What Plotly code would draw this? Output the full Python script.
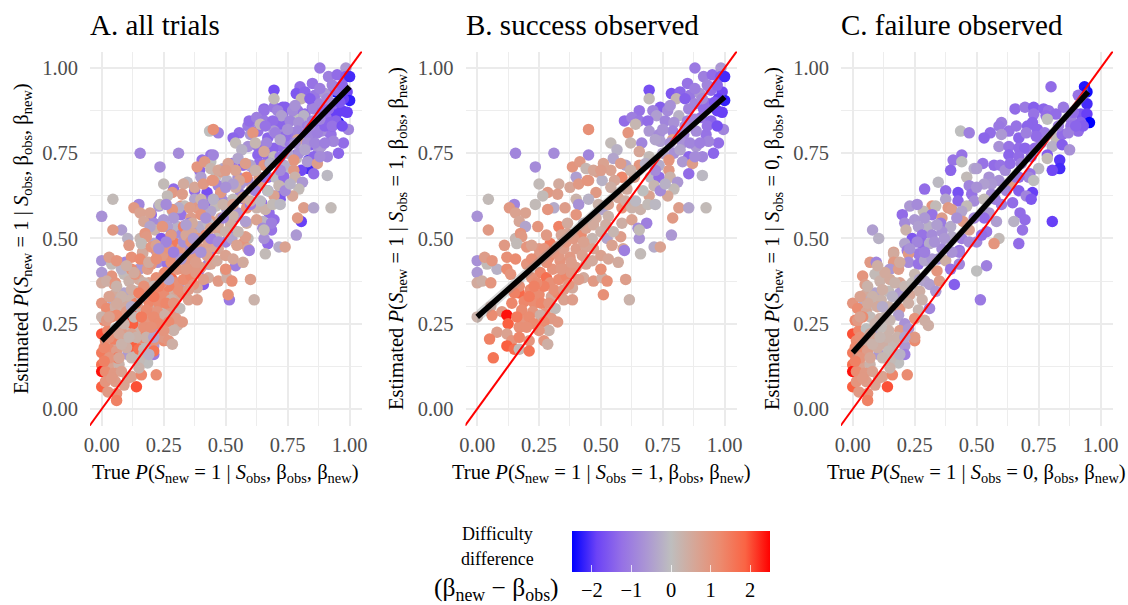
import plotly.graph_objects as go

# (true probability, estimated probability, difficulty difference)
success_points = [
(.88,1.0,-1.1),(.985,1.0,-.6),(.85,.955,-1.2),(.915,.975,-1.0),(.95,.98,-1.3),(.985,.975,-1.5),(1.0,.975,-2.1),
(.695,.935,-1.7),(.785,.925,-1.6),(.82,.93,-1.4),(.86,.92,-1.1),(.90,.925,-.6),(.945,.935,-1.3),(.99,.93,-1.8),(1.0,.905,-2.2),
(.695,.91,.1),(.805,.91,.2),(.84,.91,-1.5),(.88,.895,-.9),(.935,.895,-1.3),(.975,.91,-1.9),(.74,.885,-1.5),(.655,.875,-1.2),
(.71,.875,-.9),(.725,.86,-.5),(.77,.875,-.8),(.815,.86,-.2),(.855,.88,-.9),(.915,.88,-1.3),(.97,.875,-1.9),(.595,.845,-1.3),
(.625,.855,-1.0),(.655,.845,-1.1),(.69,.845,-1.3),(.76,.845,-.9),(.795,.84,-.7),(.85,.845,-.9),(.905,.855,-1.2),(.945,.845,-1.4),
(.995,.82,-.9),(.45,.82,1.1),(.64,.835,.2),(.61,.81,1.0),(.695,.815,-.6),(.735,.805,-.8),(.79,.815,-.9),(.835,.805,-.9),
(.925,.805,-1.2),(.885,.815,-.8),(.975,.78,-1.3),(.54,.78,.1),(.62,.78,.2),(.665,.78,-.9),(.74,.785,-.5),(.79,.79,.7),
(.83,.78,-.7),(.885,.77,-.6),(.935,.785,-.9),(.565,.76,-.2),(.155,.75,-.9),(.31,.75,-.8),(.45,.745,-.9),(.55,.735,-.4),
(.655,.755,.6),(.695,.74,.1),(.75,.75,-.4),(.795,.75,-.7),(.855,.74,-1.4),(.955,.75,-1.4),(.775,.73,1.0),(.83,.725,-.6),
(.87,.72,.8),(.385,.71,1.0),(.415,.725,.9),(.235,.71,-.8),(.44,.705,.2),(.485,.695,.8),(.54,.70,.7),(.60,.715,-.4),
(.655,.715,1.0),(.735,.715,-.3),(.775,.70,.9),(.855,.69,-1.3),(.91,.685,-.1),(.40,.68,-.5),(.585,.68,1.3),(.45,.67,.9),
(.505,.67,-.2),(.555,.67,.6),(.635,.68,.8),(.70,.68,-.1),(.735,.68,-1.3),(.78,.68,.3),(.81,.665,-.6),(.25,.66,.1),
(.33,.66,.5),(.375,.65,.6),(.41,.66,.9),(.445,.67,1.0),(.48,.635,.9),(.54,.65,.4),(.605,.645,.5),(.715,.655,.2),
(.795,.645,.1),(.285,.635,.9),(.325,.63,.8),(.265,.625,.1),(.45,.615,-.2),(.40,.615,.3),(.695,.625,.7),(.77,.625,.6),
(.045,.615,.1),(.15,.60,-.9),(.235,.60,.1),(.31,.59,-.3),(.41,.60,-.7),(.585,.59,1.0),(.625,.59,.3),(.66,.585,.3),
(.69,.60,.1),(.815,.59,.8),(.855,.59,-.4),(.925,.59,.1),(.13,.59,.9),(0,.565,-.7),(.155,.575,.7),(.195,.575,.7),
(.285,.585,1.0),(.355,.59,.8),(.505,.585,-.4),(.17,.55,.6),(.195,.535,-.4),(.245,.535,1.0),(.33,.535,1.4),(.365,.545,.5),
(.40,.57,1.0),(.43,.545,-.1),(.48,.56,.5),(.53,.565,.3),(.585,.545,.4),(.625,.555,.7),(.685,.545,-1.0),(.65,.53,-.8),
(.79,.56,.9),(.045,.525,.9),(.155,.50,.2),(.175,.515,1.0),(.18,.505,.9),(.295,.485,1.5),(.365,.515,.6),(.42,.51,1.2),
(.465,.50,.2),(.525,.50,-.4),(.58,.505,.8),(.545,.48,.7),(.655,.50,-.7),(.655,.525,.1),(.785,.51,-.6),(.11,.48,.9),
(.16,.485,.1),(.20,.475,1.0),(.25,.47,.9),(.325,.475,.7),(.40,.47,.8),(.44,.475,.6),(.59,.47,.6),(.715,.475,-.3),(.74,.475,.7),
(0,.435,-.7),(0,.40,-.6),(.04,.425,.1),(.08,.41,-.2),(.03,.445,.8),(.06,.435,1.0),(0,.37,.5),(.02,.375,.4),(.055,.37,1.0),
(.12,.445,1.1),(.155,.44,1.2),(.12,.41,1.2),(.135,.395,1.0),(.20,.425,1.0),(.25,.45,.9),(.29,.445,1.2),(.335,.435,1.0),
(.375,.445,.9),(.425,.45,.7),(.255,.40,1.3),(.28,.385,1.7),(.295,.37,1.1),(.22,.385,1.1),(.305,.41,1.0),(.355,.41,.9),
(.40,.415,.8),(.44,.425,.6),(.465,.435,.5),(.43,.385,.5),(.47,.375,.9),(.505,.385,.4),(.525,.375,1.1),(.50,.41,1.1),
(.60,.38,.8),(.66,.455,.1),(.595,.465,-1.0),(.17,.34,1.8),(.215,.35,1.2),(.19,.315,1.3),(.25,.335,1.2),(.055,.30,.4),
(.10,.285,.9),(.14,.31,1.3),(.12,.275,2.4),(.125,.25,1.9),(.06,.275,1.2),(0,.27,.3),(.23,.31,1.2),(.225,.285,1.0),
(.275,.28,.9),(.255,.275,.4),(.315,.295,.1),(.30,.33,.6),(.325,.34,1.2),(.35,.32,.7),(.385,.32,.8),(.385,.355,.5),
(.51,.335,1.1),(.615,.32,.3),(.19,.26,1.0),(.17,.24,1.1),(.30,.265,.9),(.325,.255,.9),(.27,.255,1.2),(.29,.23,.3),
(.25,.23,1.0),(.08,.225,.8),(.12,.22,.7),(.05,.205,1.4),(.14,.20,1.0),(.17,.21,1.3),(.21,.20,1.0),(.27,.20,1.0),
(.285,.19,.4),(.12,.185,1.9),(.15,.175,1.7),(.17,.175,.1),(.21,.17,1.6),(.065,.15,1.6),
(.33,.38,1.2),(.36,.39,1.3),(.31,.35,1.1),(.27,.36,1.4),(.24,.37,1.2),(.21,.33,1.5),(.23,.36,1.4),(.26,.31,1.3),
(.29,.31,1.0),(.34,.41,.9),(.38,.40,.9),(.41,.38,.8),(.37,.365,1.0),(.35,.35,.8),(.17,.36,1.1),(.15,.34,1.4),
(.18,.29,1.2),(.16,.27,1.5),(.21,.27,1.2),(.23,.25,1.2),(.20,.24,1.1),(.22,.44,1.1),(.28,.43,1.1),(.33,.45,.9),
(.38,.43,.8),(.27,.47,1.0),(.31,.46,1.0),(.35,.47,.8),(.22,.48,.7),(.28,.51,.9),(.34,.51,.6),(.36,.49,1.0),
(.39,.50,.9),(.43,.49,.7),(.47,.47,.6),(.50,.45,.7),(.53,.44,.6),(.57,.43,.5),(.44,.53,.7),(.47,.54,.5),
(.52,.54,.4),(.55,.52,.2),(.50,.52,.3),(.49,.60,.3),(.53,.60,.7),(.57,.62,.6),(.60,.61,.4),(.64,.61,-.1),
(.67,.64,0),(.72,.60,-.1),(.74,.64,-.8),(.76,.66,-.2),(.72,.70,-.8),(.78,.78,-.7),(.82,.76,-.4),(.86,.78,-.9),
(.90,.78,-1.0),(.91,.74,-.9),(.88,.74,-.8),(.84,.83,-.8),(.88,.85,-.9),(.93,.83,-1.2),(.97,.83,-1.7),(.99,.87,-1.9),
(.96,.90,-1.6),(.91,.91,-.8),(.93,.95,-.9),(.97,.95,-1.4),(.88,.94,-1.0),(.78,.89,-.7),(.75,.82,-.7),(.72,.79,-.4),
(.68,.72,-.2),(.62,.70,.3),(.58,.72,.8),(.51,.72,.7),(.47,.70,.6),(.50,.70,.8),
]

failure_points = [
(.80,.945,-1.3),(.935,.945,-2.3),(.945,.93,-2.4),(.91,.92,-1.2),(.945,.895,-2.1),(.655,.88,-1.3),(.695,.885,-1.1),(.73,.885,-1.5),
(.73,.865,-1.2),(.77,.88,-1.4),(.79,.875,-1.2),(.85,.885,-1.1),(.78,.86,-1.3),(.82,.865,-1.3),(.785,.85,0),(.88,.85,-1.0),
(.92,.865,-1.6),(.945,.865,-1.9),(.955,.84,-2.5),(.725,.84,-1.4),(.705,.83,-1.4),(.745,.82,-1.4),(.775,.81,-1.1),(.60,.84,-1.0),
(.59,.83,-1.1),(.63,.815,-1.2),(.555,.81,-1.3),(.53,.795,-1.4),(.60,.805,-.6),(.435,.815,0),(.47,.81,-1.0),(.91,.815,-1.3),
(.88,.83,-1.2),(.67,.795,-1.4),(.82,.795,.1),(.845,.805,-1.3),(.59,.77,-.7),(.63,.77,-1.2),(.67,.765,-1.3),(.695,.765,-1.4),
(.735,.765,-1.3),(.805,.77,-.2),(.845,.775,-1.5),(.875,.76,-.7),(.44,.745,-1.2),(.785,.745,-1.5),(.63,.745,-1.4),(.67,.74,-1.3),
(.785,.735,.1),(.75,.705,-.1),(.835,.73,-2.0),(.835,.705,-2.1),(.805,.70,-1.8),(.405,.73,-1.2),(.44,.725,0),(.525,.72,-1.2),
(.395,.70,-1.4),(.49,.705,-.3),(.50,.705,-.5),(.57,.715,-1.3),(.595,.715,-1.2),(.615,.70,-.8),(.635,.72,-1.3),(.715,.69,-1.2),
(.71,.68,-.9),(.73,.67,0),(.46,.68,.1),(.55,.68,-.7),(.59,.67,-.7),(.635,.66,.8),(.67,.68,-1.3),(.345,.665,-.1),
(.47,.655,-.9),(.56,.66,-.6),(.29,.645,-1.3),(.375,.64,-1.3),(.425,.635,-1.7),(.48,.63,-1.2),(.56,.63,-.8),(.725,.635,-1.9),
(.67,.64,-1.5),(.70,.625,-.9),(.72,.615,-1.6),(.375,.615,-.4),(.425,.61,-1.4),(.49,.61,-.8),(.53,.615,.1),(.575,.615,-1.0),
(.645,.605,-1.3),(.23,.595,-.6),(.32,.595,1.0),(.335,.595,.1),(.385,.59,.9),(.40,.585,.8),(.46,.595,.1),(.285,.58,.1),
(.20,.57,-1.3),(.32,.57,-1.2),(.36,.56,.8),(.44,.58,-.4),(.55,.575,-.6),(.675,.575,-1.3),(.695,.555,-1.3),(.21,.545,-.8),
(.25,.555,-.6),(.305,.535,-.2),(.355,.545,-1.1),(.445,.55,.9),(.53,.56,-1.3),(.65,.55,-.2),(.805,.55,-1.9),(.08,.525,-.5),
(.215,.525,.3),(.265,.535,-.5),(.395,.535,-.3),(.47,.525,.7),(.54,.52,-1.2),(.685,.525,-1.2),(.105,.50,-.2),(.24,.50,-1.6),
(.28,.51,-1.2),(.32,.51,-.8),(.36,.52,-.7),(.40,.505,-.3),(.50,.49,-.9),(.59,.50,.1),(.67,.485,-1.3),(.21,.485,-.4),
(.28,.485,-1.3),(.31,.485,-.3),(.165,.46,.7),(.43,.465,-1.2),(.57,.485,1.0),(.52,.51,-1.3),
(.07,.43,.9),(.095,.43,-.9),(.165,.455,.5),(.165,.43,.9),(.22,.465,-1.0),(.265,.455,-1.1),(.225,.455,.9),(.15,.41,-.6),
(.185,.41,.8),(.225,.43,-.8),(.265,.425,-1.2),(.29,.435,-.4),(.345,.44,-.7),(.375,.435,.4),(.43,.46,-1.0),(.43,.425,-.9),
(.395,.41,-1.2),(.34,.405,1.0),(.50,.405,0),(.54,.42,-1.0),(.04,.39,1.0),(.09,.395,.1),(.05,.365,.8),(.11,.375,.3),
(.15,.38,.5),(.19,.37,.7),(.25,.395,.2),(.29,.375,-.4),(.31,.365,-.5),(.35,.375,.8),(.335,.345,-.6),(.41,.365,-1.5),
(.515,.32,-1.1),(.09,.34,-.4),(.05,.335,.5),(0,.31,1.0),(.045,.315,-.3),(.08,.305,.1),(.115,.32,.3),(.145,.345,.1),
(.19,.34,-.6),(.23,.335,.6),(.27,.345,.4),(.02,.295,1.2),(.055,.285,.6),(.10,.30,.5),(.145,.30,.3),(.19,.295,1.0),
(.225,.31,.4),(.265,.29,.2),(.31,.295,-.9),(.185,.275,-.5),(.01,.26,1.3),(.07,.27,.1),(.11,.265,.4),(.15,.26,.2),
(.25,.265,1.0),(.29,.26,.4),(.305,.245,.4),(.21,.25,-.7),(0,.22,2.0),(.025,.23,1.3),(.055,.235,0),(.10,.235,-.4),
(.145,.23,.3),(.19,.23,.8),(.225,.235,-.6),(.115,.24,.1),(.015,.20,1.2),(.05,.195,.5),(.095,.205,.8),(.13,.19,.4),
(.165,.19,.2),(.21,.185,-.6),(.25,.20,1.2),(.25,.21,.9),(0,.165,1.5),(.03,.175,1.2),(.06,.17,.8),(.105,.16,-.6),
(.145,.17,.1),(.21,.16,-1.0),(.185,.135,0),(0,.13,1.7),(.03,.13,.7),(.07,.13,.3),(.15,.14,.1),(0,.11,2.4),
(.015,.11,1.2),(.05,.105,.9),(.105,.09,.6),(.12,.095,.7),(.16,.10,1.3),(.22,.10,1.2),(0,.065,1.9),(.015,.08,1.0),
(.055,.08,.8),(.14,.065,2.0),(.025,.05,.9),(.06,.045,1.1),(.06,.025,1.4),
(.02,.26,.9),(.04,.27,1.2),(.03,.21,1.1),(.07,.22,.6),(.09,.25,.3),(.13,.27,.2),(.12,.30,-.3),(.08,.33,.3),
(.06,.36,.3),(.12,.35,.4),(.16,.33,-.2),(.17,.37,.3),(.21,.36,.2),(.13,.40,.5),(.10,.42,.4),(.19,.43,.5),
(.24,.37,.1),(.27,.38,-.4),(.28,.32,.3),(.03,.15,1.0),(.07,.15,.6),(.10,.18,.4),(.12,.15,.2),(.17,.16,.2),
(.14,.21,.3),(.18,.21,.3),(.21,.21,-.4),(.08,.11,.7),(.04,.09,.9),(.09,.07,.7),(.03,.27,.7),(.01,.18,1.3),
(.01,.14,1.4),(.15,.12,.3),(.19,.16,-.2),(.08,.19,.3),(.11,.21,.2),(.06,.31,.5),(.03,.33,.7),(.32,.44,-.6),
(.36,.47,-.8),(.33,.49,-.7),(.26,.49,-.9),(.23,.47,-.7),(.29,.46,-1.0),(.37,.50,-.6),(.44,.50,-1.0),(.47,.49,-.8),
(.40,.46,-.7),(.34,.54,-.5),(.29,.56,-.6),(.26,.60,-.8),(.42,.56,-.7),(.49,.56,-.9),(.58,.55,-.5),(.60,.60,-1.0),
(.62,.64,-.9),(.53,.66,-.5),(.50,.65,-.7),(.66,.68,-1.1),(.68,.72,-1.0),(.72,.74,-1.2),(.76,.78,-1.1),(.74,.80,-1.3),
(.70,.81,-1.0),(.66,.83,-1.2),(.83,.83,-1.0),(.87,.81,-1.0),(.89,.87,-1.3),(.92,.84,-1.4),(.93,.83,-1.5),(.90,.83,-1.4),
]

# all trials: both groups, alternating
n_common = min(len(success_points), len(failure_points))
all_points = [p for pair in zip(failure_points[:n_common], success_points[:n_common]) for p in pair]
all_points += success_points[n_common:] + failure_points[n_common:]

panel_titles = ["A. all trials", "B. success observed", "C. failure observed"]
panel_points = [all_points, success_points, failure_points]
# linear fit end points
fit_x = [[0.0, 1.0], [0.0, 1.0], [0.0, 0.95]]
fit_y = [[0.20, 0.945], [0.27, 0.915], [0.165, 0.93]]
fit_lo = [[0.187, 0.935], [0.25, 0.905], [0.15, 0.915]]
fit_hi = [[0.213, 0.955], [0.29, 0.925], [0.18, 0.945]]
identity = [-0.06, 1.06]

xlabel_tail = ["<i>S</i><sub>obs</sub>", "<i>S</i><sub>obs</sub> = 1", "<i>S</i><sub>obs</sub> = 0"]
tick_vals = [0, 0.25, 0.5, 0.75, 1]
tick_text = ["0.00", "0.25", "0.50", "0.75", "1.00"]
cbar_ticks = [-2, -1, 0, 1, 2]
cbar_text = ["\u22122", "\u22121", "0", "1", "2"]

W, H = 1128, 605
FONT = "Liberation Serif"
colorscale = [
    [0.0, "#0000FF"], [0.125, "#6C43F6"], [0.25, "#9570E6"], [0.375, "#AB96D4"], [0.5, "#BEBEBE"],
    [0.625, "#D7A595"], [0.75, "#EC8A6E"], [0.875, "#FA6444"], [1.0, "#FF0000"],
]

left_px = [90, 465.5, 841]
right_px = [362, 737, 1113]
top_px, bottom_px = 51.5, 426
ytitle_px = [22, 397, 773]
xtitle_px = [225, 601, 976]

fig = go.Figure()
for i in range(3):
    ax = "" if i == 0 else str(i + 1)
    xa, ya = "x" + ax, "y" + ax
    pts = panel_points[i]
    fig.add_trace(go.Scatter(
        x=[p[0] for p in pts], y=[p[1] for p in pts], mode="markers", xaxis=xa, yaxis=ya,
        marker=dict(size=11.5, color=[p[2] for p in pts], coloraxis="coloraxis", line=dict(width=0)),
        showlegend=False))
    fig.add_trace(go.Scatter(x=identity, y=identity, mode="lines", xaxis=xa, yaxis=ya,
                             line=dict(color="#FF0000", width=2), showlegend=False))
    fig.add_trace(go.Scatter(x=fit_x[i] + fit_x[i][::-1], y=fit_lo[i] + fit_hi[i][::-1], mode="lines",
                             fill="toself", fillcolor="rgba(153,153,153,0.4)", line=dict(width=0),
                             xaxis=xa, yaxis=ya, showlegend=False))
    fig.add_trace(go.Scatter(x=fit_x[i], y=fit_y[i], mode="lines", xaxis=xa, yaxis=ya,
                             line=dict(color="#000000", width=5.5), showlegend=False))
    tail = xlabel_tail[i]
    cond = "<i>P</i>(<i>S</i><sub>new</sub> = 1 | " + tail + ", \u03b2<sub>obs</sub>, \u03b2<sub>new</sub>)"
    common = dict(tickvals=tick_vals, ticktext=tick_text, ticks="", showline=False, zeroline=False,
                  automargin=False, gridcolor="#EBEBEB", gridwidth=2,
                  minor=dict(showgrid=True, dtick=0.125, tick0=0.125, gridcolor="#EDEDED", gridwidth=1, ticks=""),
                  tickfont=dict(family=FONT, size=20.5, color="#4D4D4D"))
    fig.update_layout({
        ("xaxis" + ax): dict(domain=[left_px[i] / W, right_px[i] / W], range=[-0.0473, 1.05], anchor=ya,
                             ticklabelstandoff=4, **common),
        ("yaxis" + ax): dict(domain=[1 - bottom_px / H, 1 - top_px / H], range=[-0.05, 1.0485], anchor=xa,
                             ticklabelstandoff=11, **common),
    })
    fig.add_annotation(text=panel_titles[i], xref="paper", yref="paper", x=(left_px[i] - 2) / W, y=1 - 25 / H,
                       xanchor="left", yanchor="middle", showarrow=False,
                       font=dict(family=FONT, size=29, color="black"))
    fig.add_annotation(text="True " + cond, xref="paper", yref="paper", x=xtitle_px[i] / W, y=1 - 473 / H,
                       xanchor="center", yanchor="middle", showarrow=False,
                       font=dict(family=FONT, size=20.6, color="black"))
    fig.add_annotation(text="Estimated " + cond, xref="paper", yref="paper", x=ytitle_px[i] / W, y=1 - 239 / H,
                       xanchor="center", yanchor="middle", textangle=-90, showarrow=False,
                       font=dict(family=FONT, size=20.6, color="black"))

fig.update_layout(
    template="none", width=W, height=H, margin=dict(l=0, r=0, t=0, b=0, autoexpand=False),
    paper_bgcolor="white", plot_bgcolor="white",
    font=dict(family=FONT),
    coloraxis=dict(cmin=-2.5, cmax=2.5, colorscale=colorscale, colorbar=dict(
        orientation="h", lenmode="pixels", len=198, thicknessmode="pixels", thickness=41,
        x=671 / W, xanchor="center", y=1 - 531 / H, yanchor="top", yref="paper", xref="paper",
        tickvals=cbar_ticks, ticktext=cbar_text, ticks="inside", ticklen=7, tickcolor="rgba(255,255,255,0.75)",
        tickwidth=1, outlinewidth=0, xpad=0, ypad=0, ticklabelposition="outside bottom",
        tickfont=dict(family=FONT, size=20.5, color="black"))),
)
for label, y_px, size, x_px in [("Difficulty", 534, 18, 497), ("difference", 559, 18, 497),
                                ("(\u03b2<sub>new</sub> \u2212 \u03b2<sub>obs</sub>)", 589, 25.5, 496)]:
    fig.add_annotation(text=label, xref="paper", yref="paper", x=x_px / W, y=1 - y_px / H,
                       xanchor="center", yanchor="middle", showarrow=False,
                       font=dict(family=FONT, size=size, color="black"))
# upper white ticks of the legend bar
for t in cbar_ticks:
    px = 671 + t * 39.6
    fig.add_shape(type="line", xref="paper", yref="paper", x0=px / W, x1=px / W, y0=1 - 531 / H, y1=1 - 538 / H,
                  line=dict(color="rgba(255,255,255,0.75)", width=1))

fig.write_html("out.html", config={"displayModeBar": False}, post_script="document.body.style.margin='0';")
